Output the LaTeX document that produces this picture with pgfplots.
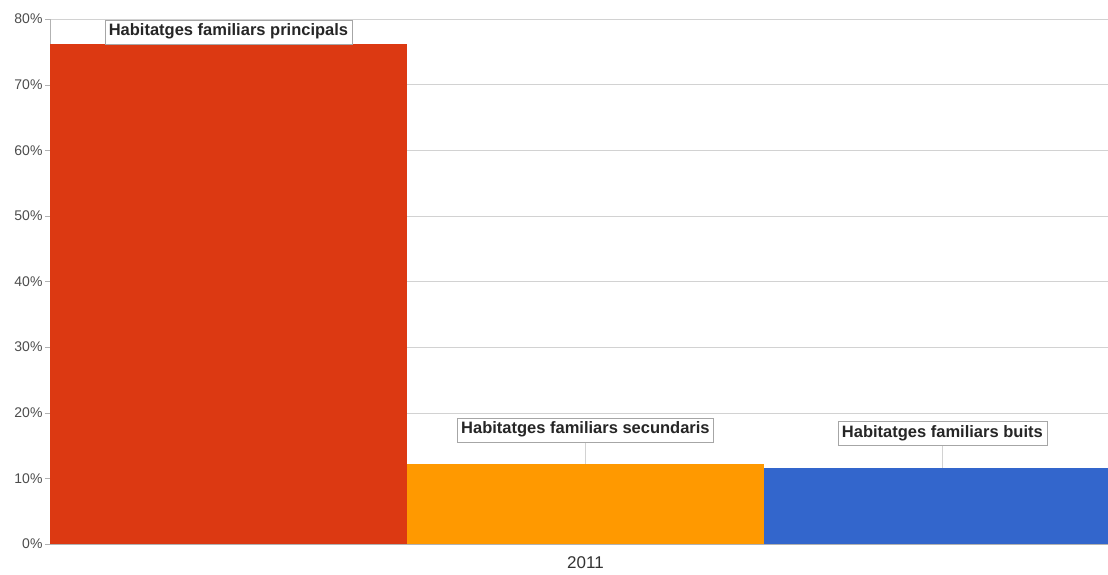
\documentclass[border=0pt]{standalone}
\usepackage{pgfplots}
\pgfplotsset{compat=1.18}
\usepackage{fontspec}
\setmainfont{Liberation Sans}
\definecolor{cred}{HTML}{DC3912}
\definecolor{corange}{HTML}{FF9900}
\definecolor{cblue}{HTML}{3366CC}
\begin{document}
\begin{tikzpicture}
\begin{axis}[
  at={(0,0)}, anchor=south west, scale only axis,
  width=1058pt, height=525pt,
  xmin=-0.5, xmax=2.464, ymin=0, ymax=80,
  ytick={0,10,...,80},
  yticklabel={\pgfmathprintnumber{\tick}\%},
  /pgf/number format/assume math mode=true,
  yticklabel style={font=\fontsize{14}{16}\selectfont, text=black!70, xshift=1pt},
  xtick={1}, xticklabels={2011},
  xticklabel style={font=\fontsize{17}{19}\selectfont, text=black!80, yshift=-4pt},
  x tick style={draw=none},
  y tick style={gray!60},
  tick align=outside, major tick length=5pt,
  ymajorgrids, grid style={gray!35},
  axis x line*=bottom, axis y line*=left,
  axis line style={gray!60,-},
]
\addplot[ybar, bar width=1, bar shift=0pt, fill=cred, draw=none] coordinates {(0,76.2)};
\addplot[ybar, bar width=1, bar shift=0pt, fill=corange, draw=none] coordinates {(1,12.2)};
\addplot[ybar, bar width=1, bar shift=0pt, fill=cblue, draw=none] coordinates {(2,11.6)};
\draw[gray!35] (axis cs:1,12.2) -- ([yshift=22pt]axis cs:1,12.2);
\draw[gray!35] (axis cs:2,11.6) -- ([yshift=22pt]axis cs:2,11.6);
\tikzset{lbl/.style={draw=gray!70, fill=white, font=\bfseries\fontsize{16.5}{18}\selectfont, text=black!85, inner xsep=4pt, minimum height=24pt, anchor=south}}
\node[lbl] at (axis cs:0,76.2) {Habitatges familiars principals};
\node[lbl, yshift=22pt] at (axis cs:1,12.2) {Habitatges familiars secundaris};
\node[lbl, yshift=22pt] at (axis cs:2,11.6) {Habitatges familiars buits};
\end{axis}
\pgfresetboundingbox
\path[use as bounding box] (-50pt,-31pt) rectangle (1058pt,544pt);
\end{tikzpicture}
\end{document}
